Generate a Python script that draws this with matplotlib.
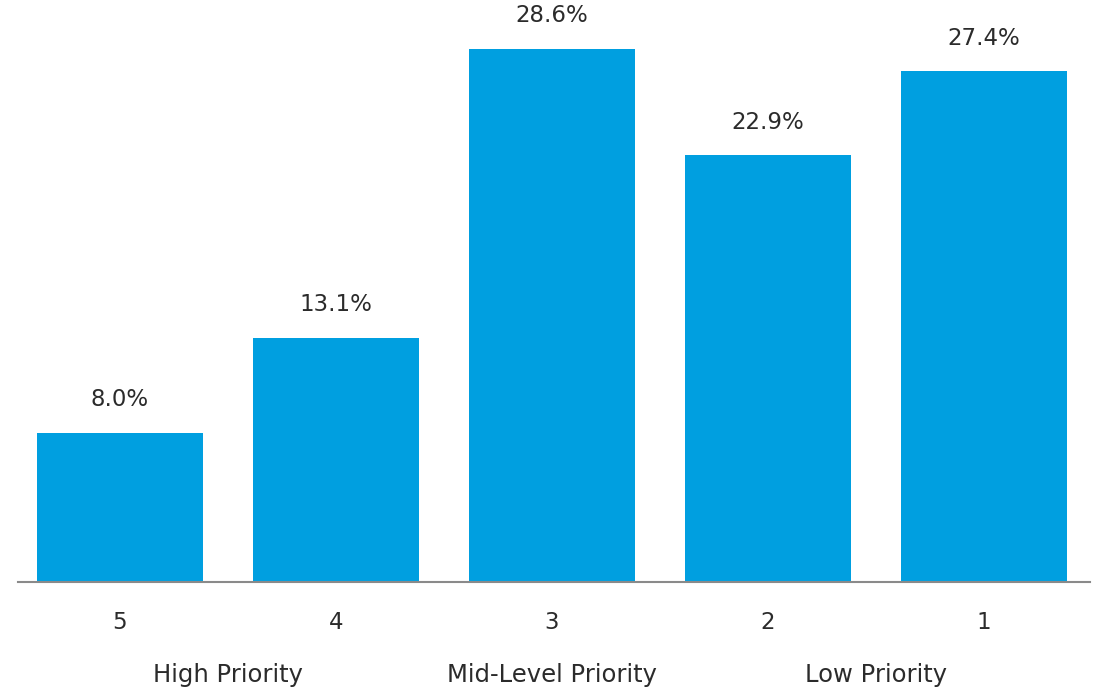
import matplotlib
matplotlib.use("Agg")
import matplotlib.pyplot as plt

# ======== Data ========
ranks = ['5', '4', '3', '2', '1']
shares = [8.0, 13.1, 28.6, 22.9, 27.4]
groups = ['High Priority', 'Mid-Level Priority', 'Low Priority']
group_pos = [0.5, 2.0, 3.5]

BAR_COLOR = '#009fe0'
TEXT_COLOR = '#2b2b2b'

plt.rcParams['font.family'] = ['DejaVu Sans']

fig = plt.figure(figsize=(10.96, 6.88), dpi=100)
ax = fig.add_axes([18 / 1096, 106 / 688, 1072 / 1096, 578 / 688])

x = list(range(len(ranks)))
bars = ax.bar(x, shares, width=0.77, color=BAR_COLOR, zorder=2)

# value labels above bars
for b, v in zip(bars, shares):
    ax.annotate(f'{v:.1f}%', (b.get_x() + b.get_width() / 2, v),
                xytext=(0, 19), textcoords='offset points',
                ha='center', va='baseline', fontsize=16.5, color=TEXT_COLOR)

ax.set_xlim(-0.472, 4.49)
ax.set_ylim(0, 31)

ax.set_xticks(x)
ax.set_xticklabels(ranks, fontsize=16.5, color=TEXT_COLOR)
ax.tick_params(axis='x', length=0, pad=21)
ax.set_yticks([])

for s in ['top', 'right', 'left']:
    ax.spines[s].set_visible(False)
ax.spines['bottom'].set_color('#8a8a8a')
ax.spines['bottom'].set_linewidth(1.5)

# group labels under the ticks
for gx, g in zip(group_pos, groups):
    ax.text(gx, -0.161, g, transform=ax.get_xaxis_transform(),
            ha='center', va='center', fontsize=17.5, color=TEXT_COLOR)

fig.savefig('out.png', dpi=100)
